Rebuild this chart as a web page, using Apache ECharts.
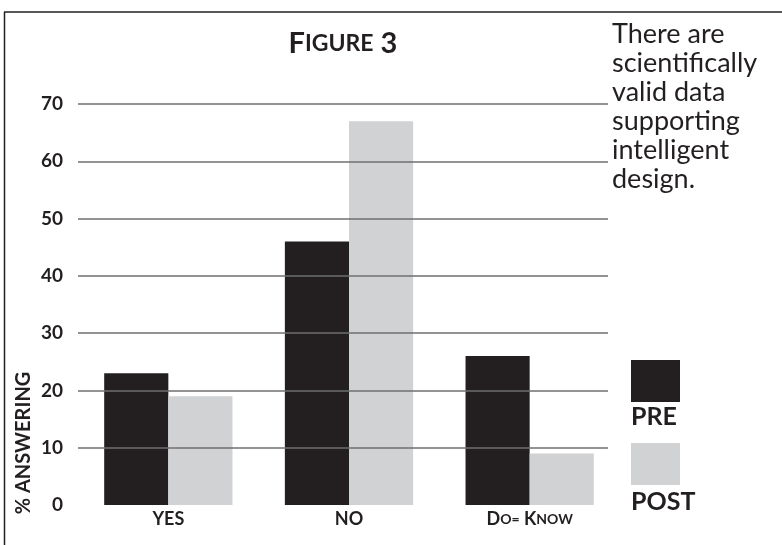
<!DOCTYPE html>
<html>
<head>
<meta charset="utf-8">
<script src="https://cdn.jsdelivr.net/npm/echarts@6/dist/echarts.min.js"></script>
<style>
  html, body { margin: 0; padding: 0; background: #fff; }
  #chart { width: 782px; height: 545px; }
</style>
</head>
<body>
<div id="chart"></div>
<script>
const categories = ['YES', 'NO', 'Do= Know'];
const preValues = [23, 46, 26];
const postValues = [19, 67, 9];
const yTicks = [0, 10, 20, 30, 40, 50, 60, 70];
const noteLines = ['There are', 'scientifically', 'valid data', 'supporting', 'intelligent', 'design.'];

const ink = '#231f20';
const font = 'Lato, "Open Sans", sans-serif';

// small caps: all-caps words stay big, mixed words get big first letter + small rest
function smallCaps(str) {
  return str.split(' ').map(w => {
    if (w === w.toUpperCase()) return '{b|' + w + '}';
    return '{b|' + w[0] + '}{s|' + w.slice(1).toUpperCase() + '}';
  }).join('{b| }');
}

const chart = echarts.init(document.getElementById('chart'));

const option = {
  animation: false,
  grid: [
    { left: 78, right: 162, top: 104, bottom: 40 },   // bars
    { left: 78, right: 174, top: 104, bottom: 40 }    // gridlines
  ],
  xAxis: [
    {
      type: 'category', gridIndex: 0, data: categories,
      axisLine: { show: false }, axisTick: { show: false },
      axisLabel: {
        interval: 0, hideOverlap: false,
        margin: 5,
        formatter: v => smallCaps(v),
        rich: {
          b: { fontFamily: font, fontWeight: 'bold', fontSize: 18, color: ink },
          s: { fontFamily: font, fontWeight: 'bold', fontSize: 14, color: ink }
        }
      }
    },
    { type: 'category', gridIndex: 1, data: categories, show: false }
  ],
  yAxis: [
    {
      type: 'value', gridIndex: 0, min: yTicks[0], max: yTicks[yTicks.length - 1], interval: 10,
      axisLine: { show: false }, axisTick: { show: false },
      splitLine: { show: false },
      axisLabel: { margin: 15, fontFamily: font, fontWeight: 'bold', fontSize: 19, color: ink }
    },
    {
      type: 'value', gridIndex: 1, min: yTicks[0], max: yTicks[yTicks.length - 1], interval: 10, z: 5,
      axisLine: { show: false }, axisTick: { show: false }, axisLabel: { show: false },
      splitLine: { show: true, showMinLine: false, lineStyle: { color: '#6f6f6f', width: 1.5 } }
    }
  ],
  legend: {
    orient: 'vertical', left: 631, top: 360, padding: 0,
    itemWidth: 49, itemHeight: 42, itemGap: 41,
    icon: 'rect', formatter: () => '',
    selectedMode: false,
    data: ['PRE', 'POST']
  },
  series: [
    {
      name: 'PRE', type: 'bar', data: preValues,
      barGap: 0, barCategoryGap: '29%',
      itemStyle: { color: ink }
    },
    {
      name: 'POST', type: 'bar', data: postValues,
      barGap: 0, barCategoryGap: '29%',
      itemStyle: { color: '#d1d2d4' }
    }
  ],
  graphic: [
    { type: 'line', shape: { x1: 4, y1: 12, x2: 782, y2: 12 }, style: { stroke: ink, lineWidth: 1.5 } },
    { type: 'line', shape: { x1: 4.5, y1: 12, x2: 4.5, y2: 545 }, style: { stroke: ink, lineWidth: 1.5 } },
    {
      type: 'text', x: 343, y: 44,
      style: {
        text: smallCaps('Figure 3'), textAlign: 'center', textVerticalAlign: 'middle',
        rich: {
          b: { fontFamily: font, fontWeight: 'bold', fontSize: 29, fill: ink },
          s: { fontFamily: font, fontWeight: 'bold', fontSize: 23, fill: ink }
        }
      }
    },
    {
      type: 'text', x: 612, y: 20,
      style: {
        text: noteLines.join('\n'), fontFamily: font, fontSize: 27, lineHeight: 29,
        fill: ink, textVerticalAlign: 'top'
      }
    },
    {
      type: 'text', x: 24, y: 443, rotation: Math.PI / 2,
      style: {
        text: '% ANSWERING', fontFamily: font, fontWeight: 'bold', fontSize: 20,
        fill: ink, textAlign: 'center', textVerticalAlign: 'middle'
      }
    },
    {
      type: 'text', x: 631, y: 417,
      style: { text: 'PRE', fontFamily: font, fontWeight: 'bold', fontSize: 25, fill: ink, textVerticalAlign: 'middle' }
    },
    {
      type: 'text', x: 631, y: 502,
      style: { text: 'POST', fontFamily: font, fontWeight: 'bold', fontSize: 25, fill: ink, textVerticalAlign: 'middle' }
    }
  ]
};

chart.setOption(option);
</script>
</body>
</html>
